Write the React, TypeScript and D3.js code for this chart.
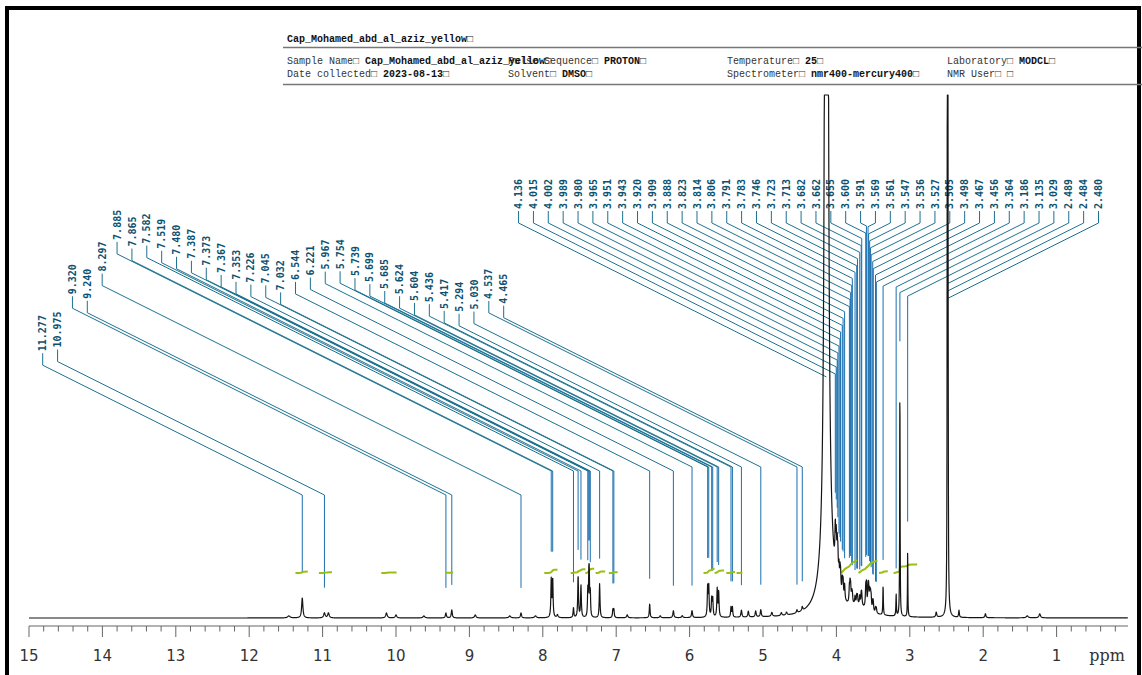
import React from "react";
import * as d3 from "d3";

const WIDTH = 1142;
const HEIGHT = 675;

// ---- header block ----
const TITLE = "Cap_Mohamed_abd_al_aziz_yellow\u25A1";
const headerLabelsRow1 = ["Sample Name\u25A1 ", "Pulse Sequence\u25A1 ", "Temperature\u25A1 ", "Laboratory\u25A1 "];
const headerValuesRow1 = ["Cap_Mohamed_abd_al_aziz_yellow\u25A1", "PROTON\u25A1", "25\u25A1", "MODCL\u25A1"];
const headerLabelsRow2 = ["Date collected\u25A1 ", "Solvent\u25A1 ", "Spectrometer\u25A1 ", "NMR User\u25A1 "];
const headerValuesRow2 = ["2023-08-13\u25A1", "DMSO\u25A1", "nmr400-mercury400\u25A1", "\u25A1"];

// ---- picked peaks (ppm) ----
const peakLabels = [
  "11.277", "10.975", "9.320", "9.240", "8.297", "7.885", "7.865", "7.582", "7.519", "7.480",
  "7.387", "7.373", "7.367", "7.353", "7.226", "7.045", "7.032", "6.544", "6.221", "5.967",
  "5.754", "5.739", "5.699", "5.685", "5.624", "5.604", "5.436", "5.417", "5.294", "5.030",
  "4.537", "4.465", "4.136", "4.015", "4.002", "3.989", "3.980", "3.965", "3.951", "3.943",
  "3.920", "3.909", "3.888", "3.823", "3.814", "3.806", "3.791", "3.783", "3.746", "3.723",
  "3.713", "3.682", "3.662", "3.655", "3.600", "3.591", "3.569", "3.561", "3.547", "3.536",
  "3.527", "3.505", "3.498", "3.467", "3.456", "3.364", "3.186", "3.135", "3.029", "2.489",
  "2.484", "2.480",
];

// ---- resonance lines of the 1H trace: shift (ppm), height, half-width (ppm) ----
const lineShifts = [
  11.46, 11.277, 10.975, 10.92, 10.13, 10.0, 9.62, 9.32, 9.24, 8.92,
  8.45, 8.297, 8.1, 7.885, 7.865, 7.8, 7.582, 7.519, 7.48, 7.387,
  7.373, 7.367, 7.353, 7.226, 7.045, 7.032, 6.85, 6.544, 6.4, 6.221,
  6.1, 5.967, 5.754, 5.739, 5.699, 5.685, 5.624, 5.604, 5.436, 5.417,
  5.294, 5.2, 5.1, 5.03, 4.88, 4.75, 4.68, 4.537, 4.465, 4.136,
  4.12, 4.015, 4.002, 3.989, 3.98, 3.965, 3.951, 3.943, 3.92, 3.909,
  3.888, 3.823, 3.814, 3.806, 3.791, 3.783, 3.746, 3.723, 3.713, 3.682,
  3.662, 3.655, 3.6, 3.591, 3.569, 3.561, 3.547, 3.536, 3.527, 3.505,
  3.498, 3.467, 3.456, 3.7, 3.364, 3.186, 3.135, 3.029, 2.64, 2.489,
  2.484, 2.48, 2.33, 1.97, 1.4, 1.23,
];
const lineHeights = [
  2, 20, 5, 5, 5, 3, 2, 5, 8, 3,
  2, 5, 2, 38, 38, 3, 10, 42, 32, 26,
  34, 34, 24, 34, 8, 8, 3, 14, 2, 7,
  2, 7, 30, 30, 18, 18, 28, 25, 10, 10,
  7, 6, 6, 7, 4, 3, 3, 3, 4, 8000,
  40, 40, 35, 30, 25, 19, 18, 16, 16, 16,
  15, 14, 16, 14, 9, 9, 8, 8, 8, 9,
  10, 10, 19, 21, 19, 18, 16, 14, 12, 8,
  8, 5, 5, 8, 30, 22, 250, 70, 5, 500,
  700, 500, 7, 4, 2, 4,
];
const lineWidths = [
  0.02, 0.01, 0.012, 0.012, 0.012, 0.012, 0.015, 0.008, 0.008, 0.012,
  0.015, 0.008, 0.015, 0.006, 0.006, 0.01, 0.006, 0.006, 0.006, 0.005,
  0.005, 0.005, 0.005, 0.006, 0.006, 0.006, 0.01, 0.006, 0.01, 0.008,
  0.01, 0.008, 0.006, 0.006, 0.006, 0.006, 0.006, 0.006, 0.006, 0.006,
  0.008, 0.008, 0.008, 0.008, 0.01, 0.01, 0.01, 0.008, 0.008, 0.0075,
  0.1, 0.006, 0.006, 0.006, 0.006, 0.006, 0.006, 0.006, 0.006, 0.006,
  0.006, 0.006, 0.006, 0.006, 0.006, 0.006, 0.006, 0.006, 0.006, 0.006,
  0.006, 0.006, 0.006, 0.006, 0.006, 0.006, 0.006, 0.006, 0.006, 0.006,
  0.006, 0.006, 0.006, 0.15, 0.004, 0.004, 0.003, 0.003, 0.008, 0.0025,
  0.0025, 0.0025, 0.006, 0.008, 0.015, 0.012,
];

// ---- integral regions (ppm, from -> to) ----
const integralStarts = [11.37, 11.05, 10.2, 9.33, 7.98, 7.62, 7.42, 7.28, 7.1, 5.81, 5.66, 5.5, 5.36, 3.93, 3.7, 3.42, 3.22];
const integralEnds = [11.2, 10.87, 9.99, 9.22, 7.8, 7.42, 7.3, 7.15, 6.98, 5.66, 5.53, 5.38, 5.28, 3.72, 3.44, 3.3, 2.9];

// ---- axis ----
const majorTicks = [15, 14, 13, 12, 11, 10, 9, 8, 7, 6, 5, 4, 3, 2, 1];
const AXIS_UNIT = "ppm";

// leader elbow levels by region (ppm lower bound -> y of diagonal end)
const leaderLevels = [
  { above: 8.0, level: 495 },
  { above: 6.0, level: 471 },
  { above: 4.3, level: 467 },
  { above: -Infinity, level: 0 },
];

const LEADER = "#1c7190";
const DROP = "#1a6fae";
const LABEL_INK = "#0b5270";

const BASE_Y = 618;
const AXIS_Y = 626;

function intensity(ppm: number): number {
  let s = 0;
  for (let i = 0; i < lineShifts.length; i++) {
    const u = (ppm - lineShifts[i]) / lineWidths[i];
    s += lineHeights[i] / (1 + u * u);
  }
  return s;
}

export default function App() {
  const x = d3.scaleLinear().domain([15, 0]).range([29, 1130]);
  const y = d3.scaleLinear().domain([0, BASE_Y - 95]).range([BASE_Y, 95]).clamp(true);

  // spectrum trace
  const samples: [number, number][] = [];
  for (let px = 29; px <= 1128; px += 0.2) {
    const ppm = x.invert(px);
    samples.push([ppm, intensity(ppm)]);
  }
  const line = d3
    .line<[number, number]>()
    .x((d) => x(d[0]))
    .y((d) => y(d[1]));
  const tracePath = line(samples) || "";

  // integral traces
  const areas: number[] = [];
  const integralSeries = integralStarts.map((a, i) => {
    const b = integralEnds[i];
    const step = 0.002;
    let cum = 0;
    const pts: [number, number][] = [];
    for (let p = a; p >= b; p -= step) {
      cum += intensity(p) * step;
      pts.push([p, cum]);
    }
    areas.push(cum);
    return pts;
  });
  const maxArea = d3.max(areas) || 1;
  const integralY = d3.scaleLinear().domain([0, maxArea]).range([573, 560]);
  const integralLine = d3
    .line<[number, number]>()
    .x((d) => x(d[0]))
    .y((d) => integralY(d[1]));

  // peak label layout
  const labelX = d3.scalePoint<string>().domain(peakLabels.map((d, i) => String(i))).range([42.7, 1098.5]);
  const SLOPE = 0.5;
  const TOP_ELBOW = 223;
  const leaders = peakLabels.map((lab, i) => {
    const ppm = +lab;
    const xl = labelX(String(i)) as number;
    const xp = x(ppm);
    const dx = Math.abs(xp - xl);
    const lvl = leaderLevels.find((l) => ppm > l.above)!.level;
    const elbow = Math.max(TOP_ELBOW, lvl - SLOPE * dx);
    const yd = elbow + SLOPE * dx;
    const bottom = elbow - 14;
    const yEnd = y(intensity(ppm)) - 25;
    const d = `M${xl},${bottom + 2}V${elbow}L${xp},${yd}`;
    const drop = yEnd > yd ? `M${xp},${yd}V${yEnd}` : "";
    return { lab, xl, bottom, d, drop };
  });

  const minorTicks = d3.range(150, 0, -2).map((v) => v / 10);

  const headerCols = [287, 508, 727, 947];
  const mono = "'Liberation Mono', 'DejaVu Sans Mono', monospace";

  return (
    <svg
      width={WIDTH}
      height={HEIGHT}
      viewBox={`0 0 ${WIDTH} ${HEIGHT}`}
      style={{ position: "absolute", left: 0, top: 0, background: "#fff" }}
    >
      <rect x={0} y={0} width={WIDTH} height={HEIGHT} fill="#fff" />
      {/* outer frame */}
      <path d={`M7,${HEIGHT + 5}V8H1139V${HEIGHT + 5}`} fill="none" stroke="#000" strokeWidth={4} />

      {/* header */}
      <text x={287} y={42} fontFamily={mono} fontSize={10} fontWeight="bold" fill="#111">
        {TITLE}
      </text>
      <line x1={283} x2={1142} y1={47.5} y2={47.5} stroke="#777" strokeWidth={1.4} />
      {headerLabelsRow1.map((lab, i) => (
        <text key={"r1l" + i} x={headerCols[i]} y={64} fontFamily={mono} fontSize={10} fill="#333">
          {lab}
        </text>
      ))}
      {headerValuesRow1.map((val, i) => (
        <text
          key={"r1v" + i}
          x={headerCols[i] + headerLabelsRow1[i].length * 6}
          y={64}
          fontFamily={mono}
          fontSize={10}
          fontWeight="bold"
          fill="#111"
        >
          {val}
        </text>
      ))}
      {headerLabelsRow2.map((lab, i) => (
        <text key={"r2l" + i} x={headerCols[i]} y={76.5} fontFamily={mono} fontSize={10} fill="#333">
          {lab}
        </text>
      ))}
      {headerValuesRow2.map((val, i) => (
        <text
          key={"r2v" + i}
          x={headerCols[i] + headerLabelsRow2[i].length * 6}
          y={76.5}
          fontFamily={mono}
          fontSize={10}
          fontWeight="bold"
          fill="#111"
        >
          {val}
        </text>
      ))}
      <line x1={283} x2={1142} y1={84.5} y2={84.5} stroke="#777" strokeWidth={1.4} />

      {/* peak leaders and labels */}
      <g fill="none" stroke={LEADER} strokeWidth={1}>
        {leaders.map((l, i) => (
          <path key={"ld" + i} d={l.d} />
        ))}
      </g>
      <g fill="none" stroke={DROP} strokeWidth={1}>
        {leaders.map((l, i) => (l.drop ? <path key={"dr" + i} d={l.drop} /> : null))}
      </g>
      {leaders.map((l, i) => (
        <text
          key={"lb" + i}
          transform={`translate(${l.xl + 3.6},${l.bottom}) rotate(-90)`}
          fontFamily="'DejaVu Sans Mono', monospace"
          fontSize={10}
          fontWeight="bold"
          fill={LABEL_INK}
        >
          {l.lab}
        </text>
      ))}

      {/* integrals */}
      <g fill="none" stroke="#98bf14" strokeWidth={2}>
        {integralSeries.map((pts, i) => (
          <path key={"int" + i} d={integralLine(pts) || ""} />
        ))}
      </g>

      {/* spectrum */}
      <path d={tracePath} fill="none" stroke="#151515" strokeWidth={1.2} strokeLinejoin="round" />

      {/* axis */}
      <line x1={x(15)} x2={1128} y1={AXIS_Y} y2={AXIS_Y} stroke="#666" strokeWidth={1} />
      {minorTicks.map((t) => (
        <line
          key={"mt" + t}
          x1={x(t)}
          x2={x(t)}
          y1={AXIS_Y}
          y2={Number.isInteger(t) ? AXIS_Y + 11 : AXIS_Y + 5.5}
          stroke="#666"
          strokeWidth={1}
        />
      ))}
      {majorTicks.map((t) => (
        <text
          key={"tl" + t}
          x={x(t)}
          y={AXIS_Y + 35}
          textAnchor="middle"
          fontFamily="'DejaVu Sans', sans-serif"
          fontSize={15}
          fill="#333"
        >
          {d3.format("d")(t)}
        </text>
      ))}
      <text x={1107} y={AXIS_Y + 35} textAnchor="middle" fontFamily="'DejaVu Serif', serif" fontSize={16} fill="#333">
        {AXIS_UNIT}
      </text>
    </svg>
  );
}
